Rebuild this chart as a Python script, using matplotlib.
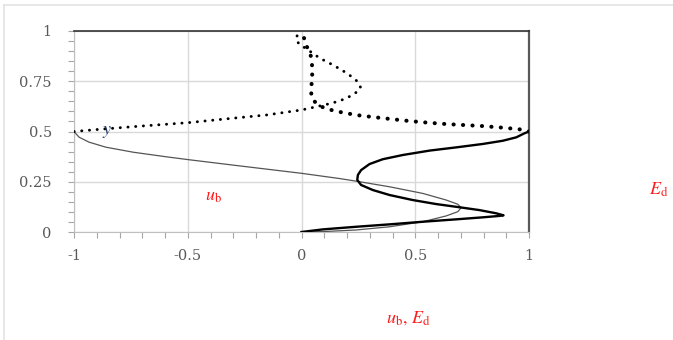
import matplotlib
matplotlib.use("Agg")
import matplotlib.pyplot as plt
from matplotlib.lines import Line2D
from matplotlib.ticker import FixedLocator, FixedFormatter, MultipleLocator

# ---- data ----
# thin grey curve (u_b)
ub_x = [0.0, 0.094, 0.24, 0.387, 0.533, 0.636, 0.687, 0.702, 0.687, 0.636, 0.533,
        0.387, 0.245, 0.167, 0.0, -0.155, -0.302, -0.498, -0.6, -0.74, -0.86,
        -0.934, -0.978, -1.0]
ub_y = [0.0, 0.002, 0.01, 0.026, 0.051, 0.08, 0.101, 0.121, 0.138, 0.159, 0.192,
        0.225, 0.252, 0.266, 0.292, 0.313, 0.333, 0.36, 0.375, 0.397, 0.422,
        0.447, 0.472, 0.5]

# thick black curve (E_d)
ed_x = [0.0, 0.094, 0.24, 0.387, 0.533, 0.68, 0.797, 0.87, 0.888, 0.856, 0.782,
        0.695, 0.592, 0.489, 0.387, 0.313, 0.262, 0.245, 0.248, 0.262, 0.299,
        0.357, 0.445, 0.563, 0.68, 0.797, 0.885, 0.944, 0.98, 1.0]
ed_y = [0.0, 0.013, 0.026, 0.038, 0.051, 0.063, 0.073, 0.08, 0.083, 0.093, 0.109,
        0.123, 0.139, 0.159, 0.184, 0.209, 0.234, 0.259, 0.284, 0.308, 0.338,
        0.362, 0.383, 0.405, 0.421, 0.438, 0.454, 0.471, 0.491, 0.5]

# small-dot dotted curve
da_x = [-1.0, -0.886, -0.74, -0.498, -0.302, -0.155, 0.0, 0.06, 0.1, 0.14, 0.18,
        0.215, 0.245, 0.26, 0.255, 0.24, 0.215, 0.185, 0.155, 0.12, 0.085, 0.05,
        0.025, -0.006, -0.022, -0.023, -0.015, 0.0]
da_y = [0.5, 0.511, 0.524, 0.544, 0.566, 0.582, 0.607, 0.622, 0.632, 0.643, 0.658,
        0.676, 0.698, 0.717, 0.735, 0.755, 0.777, 0.8, 0.82, 0.842, 0.862, 0.888,
        0.91, 0.93, 0.952, 0.968, 0.985, 1.0]

# large-dot dotted curve
db_x = [1.0, 0.958, 0.885, 0.797, 0.716, 0.636, 0.555, 0.475, 0.401, 0.321, 0.24,
        0.16, 0.12, 0.079, 0.05, 0.043, 0.043, 0.045, 0.047, 0.047, 0.045, 0.038,
        0.02, 0.013, 0.0]
db_y = [0.5, 0.511, 0.519, 0.527, 0.532, 0.537, 0.544, 0.552, 0.561, 0.571, 0.582,
        0.599, 0.61, 0.627, 0.657, 0.682, 0.715, 0.748, 0.781, 0.814, 0.856, 0.889,
        0.93, 0.959, 1.0]

x_ticks = [-1, -0.5, 0, 0.5, 1]
x_tick_labels = ["-1", "-0.5", "0", "0.5", "1"]
y_ticks = [0, 0.25, 0.5, 0.75, 1]
y_tick_labels = ["0", "0.25", "0.5", "0.75", "1"]

W, H = 673, 340
fig = plt.figure(figsize=(W / 100, H / 100), dpi=100)
fig.patch.set_facecolor("white")

ax = fig.add_axes([74 / W, 1 - 232 / H, (529 - 74) / W, (232 - 31) / H])
ax.set_xlim(-1, 1)
ax.set_ylim(0, 1)

ax.plot(ub_x, ub_y, color="#555555", lw=0.9, zorder=3)
ax.plot(ed_x, ed_y, color="black", lw=1.7, zorder=4)
ax.plot(da_x, da_y, color="black", lw=2.1, linestyle=(0, (0.05, 2.6)),
        dash_capstyle="round", zorder=4)
ax.plot(db_x, db_y, color="black", lw=2.9, linestyle=(0, (0.05, 2.3)),
        dash_capstyle="round", zorder=4)

ax.xaxis.set_major_locator(FixedLocator(x_ticks))
ax.xaxis.set_major_formatter(FixedFormatter(x_tick_labels))
ax.yaxis.set_major_locator(FixedLocator(y_ticks))
ax.yaxis.set_major_formatter(FixedFormatter(y_tick_labels))
ax.xaxis.set_minor_locator(MultipleLocator(0.1))
ax.yaxis.set_minor_locator(MultipleLocator(0.05))

ax.grid(which="major", color="#d9d9d9", lw=1.0, zorder=0)
ax.set_axisbelow(True)
ax.tick_params(which="both", direction="out", length=4, width=0.8, color="#a6a6a6")
ax.tick_params(axis="both", which="major", labelsize=10.5, labelcolor="#595959")
ax.tick_params(axis="x", which="major", pad=8)
ax.tick_params(axis="y", which="major", pad=12)
for lab in ax.get_xticklabels() + ax.get_yticklabels():
    lab.set_fontfamily("DejaVu Serif")

ax.spines["top"].set_color("#333333")
ax.spines["top"].set_linewidth(1.2)
ax.spines["right"].set_color("#595959")
ax.spines["right"].set_linewidth(1.6)
ax.spines["left"].set_color("#bfbfbf")
ax.spines["bottom"].set_color("#bfbfbf")

# labels
fig.text(213 / W, 1 - 196 / H, r"$u_{\mathrm{b}}$", color="#ff1a1a", fontsize=13,
         ha="center", va="center", math_fontfamily="stix")
fig.text(659 / W, 1 - 190 / H, r"$E_{\mathrm{d}}$", color="#ff1a1a", fontsize=13,
         ha="center", va="center", math_fontfamily="stix")
fig.text(408 / W, 1 - 318 / H, r"$u_{\mathrm{b}},\, E_{\mathrm{d}}$", color="#ff1a1a",
         fontsize=13, ha="center", va="center", math_fontfamily="stix")
fig.text(107 / W, 1 - 131 / H, r"$y$", color="#1f3864", fontsize=13,
         ha="center", va="center", math_fontfamily="stix", zorder=6)

# faint figure frame (top and left)
fig.add_artist(Line2D([4 / W, 1], [1 - 5 / H, 1 - 5 / H], transform=fig.transFigure,
                      color="#e3e3e3", lw=1.2))
fig.add_artist(Line2D([4 / W, 4 / W], [0, 1 - 5 / H], transform=fig.transFigure,
                      color="#e3e3e3", lw=1.2))

fig.savefig("out.png", dpi=100, facecolor="white")
